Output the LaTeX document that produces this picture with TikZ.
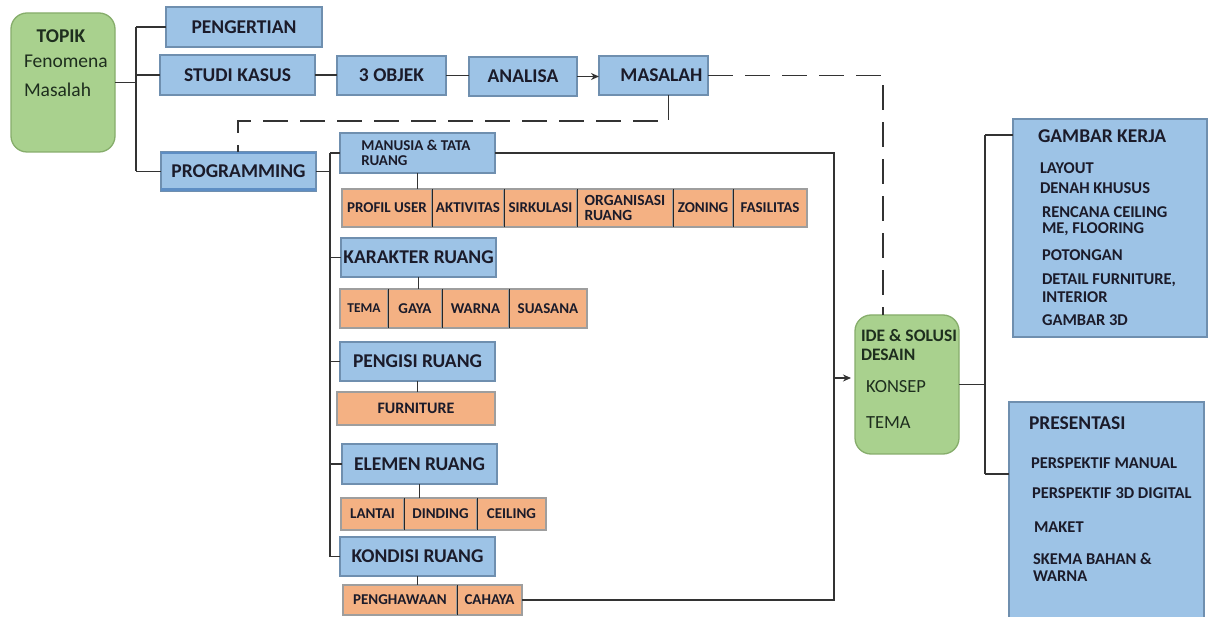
\documentclass[tikz,border=0pt]{standalone}
\usepackage{fontspec}
\setmainfont{Carlito}
\usetikzlibrary{arrows.meta}
\definecolor{bfill}{HTML}{9DC3E6}
\definecolor{bdraw}{HTML}{6F8FAF}
\definecolor{ofill}{HTML}{F4B183}
\definecolor{odraw}{HTML}{9E9E9E}
\definecolor{gfill}{HTML}{A9D18E}
\definecolor{gdraw}{HTML}{86AD6B}
\definecolor{txt}{HTML}{1B1B2A}
\definecolor{gtxt}{HTML}{1E2E1E}
\definecolor{ln}{HTML}{333333}
\definecolor{pband}{HTML}{5E8EC4}
\begin{document}
\begin{tikzpicture}[x=1pt,y=-1pt,
  box/.style={anchor=north west, inner sep=0pt, outer sep=0pt, text=txt, line width=1.3pt, align=center},
  bluebox/.style={box, draw=bdraw, fill=bfill, font=\fontsize{19.5}{21}\selectfont\bfseries},
  orangebox/.style={box, draw=odraw, fill=ofill, font=\fontsize{15}{15}\selectfont\bfseries},
  greenbox/.style={box, draw=gdraw, fill=gfill, rounded corners=16pt},
  lbl/.style={anchor=west, inner sep=0pt, outer sep=0pt, text=txt},
  bigb/.style={font=\fontsize{19.5}{21}\selectfont\bfseries},
  midb/.style={font=\fontsize{16.5}{18}\selectfont\bfseries},
  conn/.style={draw=ln, line width=1.2pt},
  dashconn/.style={conn, dash pattern=on 25pt off 12pt},
  divider/.style={draw=black!85, line width=1pt}
]
\useasboundingbox[fill=white] (0,0) rectangle (1208,617);

% left topic
\node[greenbox, minimum width=104, minimum height=139] (topik) at (11,13) {};
\node[lbl, anchor=center, text=gtxt, font=\fontsize{19.5}{21}\selectfont\bfseries] (topikT) at (61,36) {TOPIK};
\node[lbl, text=gtxt, font=\fontsize{19.5}{22}\selectfont] (fenoT) at (24,61) {Fenomena};
\node[lbl, text=gtxt, font=\fontsize{19.5}{22}\selectfont] (masT) at (24,90) {Masalah};

% first column
\node[bluebox, minimum width=156, minimum height=40] (pengertian) at (166,7) {PENGERTIAN};
\node[bluebox, minimum width=155, minimum height=40] (studi) at (160,55) {STUDI KASUS};
\node[bluebox, minimum width=155, minimum height=39] (programming) at (161,152) {PROGRAMMING};
\draw[pband, line width=2.5pt] ([yshift=-1pt]programming.north west) -- ([yshift=-1pt]programming.north east);
\draw[pband, line width=3.5pt] ([yshift=1.5pt]programming.south west) -- ([yshift=1.5pt]programming.south east);

% top row
\node[bluebox, minimum width=109, minimum height=39] (objek) at (337,56) {3 OBJEK};
\node[bluebox, minimum width=108, minimum height=39] (analisa) at (469,57) {ANALISA};
\node[bluebox, minimum width=109, minimum height=39] (masalah) at (599,56) {\hspace*{16pt}MASALAH};

% programming children
\node[bluebox, minimum width=155, minimum height=40, font=\fontsize{15}{14.5}\selectfont\bfseries, align=left] (manusia) at (340,133) {MANUSIA \& TATA\\RUANG\hspace*{66pt}};

\node[orangebox, minimum width=90, minimum height=38] (profil) at (342,189) {PROFIL USER};
\node[orangebox, minimum width=72, minimum height=38] (aktivitas) at (432,189) {AKTIVITAS};
\node[orangebox, minimum width=73, minimum height=38] (sirkulasi) at (504,189) {SIRKULASI};
\node[orangebox, minimum width=96, minimum height=38, align=left, font=\fontsize{15.5}{15}\selectfont\bfseries] (organisasi) at (577,189) {ORGANISASI\\RUANG};
\node[orangebox, minimum width=60, minimum height=38] (zoning) at (673,189) {ZONING};
\node[orangebox, minimum width=74, minimum height=38] (fasilitas) at (733,189) {FASILITAS};

\node[bluebox, minimum width=155, minimum height=39] (karakter) at (341,238) {KARAKTER RUANG};
\node[orangebox, minimum width=48, minimum height=39, font=\fontsize{13.5}{15}\selectfont\bfseries] (tema) at (340,289) {TEMA};
\node[orangebox, minimum width=54, minimum height=39] (gaya) at (388,289) {GAYA};
\node[orangebox, minimum width=67, minimum height=39] (warna) at (442,289) {WARNA};
\node[orangebox, minimum width=78, minimum height=39] (suasana) at (509,289) {SUASANA};

\node[bluebox, minimum width=155, minimum height=39] (pengisi) at (340,342) {PENGISI RUANG};
\node[orangebox, minimum width=158, minimum height=33, font=\fontsize{16}{16}\selectfont\bfseries] (furniture) at (337,392) {FURNITURE};

\node[bluebox, minimum width=155, minimum height=40] (elemen) at (342,444) {ELEMEN RUANG};
\node[orangebox, minimum width=63, minimum height=32] (lantai) at (341,498) {LANTAI};
\node[orangebox, minimum width=73, minimum height=32] (dinding) at (404,498) {DINDING};
\node[orangebox, minimum width=69, minimum height=32] (ceiling) at (477,498) {CEILING};

\node[bluebox, minimum width=155, minimum height=39] (kondisi) at (340,537) {KONDISI RUANG};
\node[orangebox, minimum width=114, minimum height=30] (penghawaan) at (343,585) {PENGHAWAAN};
\node[orangebox, minimum width=65, minimum height=30] (cahaya) at (457,585) {CAHAYA};

% dividers between cells
\foreach \a in {profil,aktivitas,sirkulasi,organisasi,zoning,tema,gaya,warna,lantai,dinding,penghawaan}
  \draw[divider] (\a.north east) -- (\a.south east);

% idea box
\node[greenbox, minimum width=104, minimum height=139] (ide) at (855,315) {};
\node[lbl, text=gtxt, font=\fontsize{17.5}{19}\selectfont\bfseries] (ideT) at (861,336) {IDE \& SOLUSI};
\node[lbl, text=gtxt, font=\fontsize{17.5}{19}\selectfont\bfseries] (desT) at (861,355) {DESAIN};
\node[lbl, text=gtxt, font=\fontsize{18.5}{20}\selectfont] (konT) at (866,387) {KONSEP};
\node[lbl, text=gtxt, font=\fontsize{18.5}{20}\selectfont] (temT) at (866,423) {TEMA};

% output boxes
\node[box, draw=bdraw, fill=bfill, minimum width=194, minimum height=218] (gambar) at (1013,119) {};
\node[lbl, bigb] (gk0) at (1038,136) {GAMBAR KERJA};
\node[lbl, midb] (gk1) at (1040,168) {LAYOUT};
\node[lbl, midb] (gk2) at (1040,188) {DENAH KHUSUS};
\node[lbl, midb] (gk3) at (1042,212) {RENCANA CEILING};
\node[lbl, midb] (gk4) at (1042,229) {ME, FLOORING};
\node[lbl, midb] (gk5) at (1042,255) {POTONGAN};
\node[lbl, midb] (gk6) at (1042,280) {DETAIL FURNITURE,};
\node[lbl, midb] (gk7) at (1042,297) {INTERIOR};
\node[lbl, midb] (gk8) at (1042,320) {GAMBAR 3D};

\node[box, draw=bdraw, fill=bfill, minimum width=195, minimum height=222] (presentasi) at (1009,402) {};
\node[lbl, bigb] (pr0) at (1029,423) {PRESENTASI};
\node[lbl, midb] (pr1) at (1031,463) {PERSPEKTIF MANUAL};
\node[lbl, midb] (pr2) at (1032,493) {PERSPEKTIF 3D DIGITAL};
\node[lbl, midb] (pr3) at (1034,527) {MAKET};
\node[lbl, midb] (pr4) at (1033,559) {SKEMA BAHAN \&};
\node[lbl, midb] (pr5) at (1033,576) {WARNA};

% junction coordinates
\coordinate (jx) at (136,0);
\coordinate (vx) at (330,0);
\coordinate (rx) at (834,0);
\coordinate (ay) at (834,378);
\coordinate (gx) at (985,0);
\coordinate (g1) at (985,135);
\coordinate (g2) at (985,474);
\coordinate (dx) at (238,121);
\coordinate (dy) at (883,0);

% topic bracket
\draw[conn] (topik.east) -- (topik.east -| jx);
\draw[conn] (pengertian.west -| jx) -- (programming.west -| jx);
\draw[conn] (pengertian.west -| jx) -- (pengertian.west);
\draw[conn] (studi.west -| jx) -- (studi.west);
\draw[conn] (programming.west -| jx) -- (programming.west);

% top chain
\draw[conn] (studi.east) -- (studi.east -| objek.west);
\draw[conn] (objek.east) -- (objek.east -| analisa.west);
\draw[conn, -{Stealth[length=8pt,width=7pt]}] (analisa.east) -- (analisa.east -| masalah.west);

% dashed feedback
\draw[dashconn] ([xshift=15pt]masalah.south) |- (dx) -- (dx |- programming.north);
\draw[dashconn] (masalah.east) -| (dy |- ide.north);

% programming trunk
\draw[conn] (programming.east) -- (programming.east -| vx);
\draw[conn] (vx |- manusia.west) -- (vx |- kondisi.west);
\foreach \n in {manusia,karakter,pengisi,elemen,kondisi}
  \draw[conn] (vx |- \n.west) -- (\n.west);

% children links
\draw[conn] (manusia.south) -- (manusia.south |- profil.north);
\draw[conn] (karakter.south) -- (karakter.south |- tema.north);
\draw[conn] (pengisi.south) -- (pengisi.south |- furniture.north);
\draw[conn] (elemen.south) -- (elemen.south |- lantai.north);
\draw[conn] (kondisi.south) -- (kondisi.south |- penghawaan.north);

% right trunk to idea
\draw[conn] (manusia.east) -- (manusia.east -| rx) -- (rx |- cahaya.east) -- (cahaya.east);
\draw[conn, -{Stealth[length=8pt,width=7pt]}, shorten >=4pt] (ay) -- (ay -| ide.west);

% idea to outputs
\draw[conn] (ide.east) -- (ide.east -| gx);
\draw[conn] (g1) -- (g2);
\draw[conn] (g1) -- (g1 -| gambar.west);
\draw[conn] (g2) -- (g2 -| presentasi.west);
\end{tikzpicture}
\end{document}
